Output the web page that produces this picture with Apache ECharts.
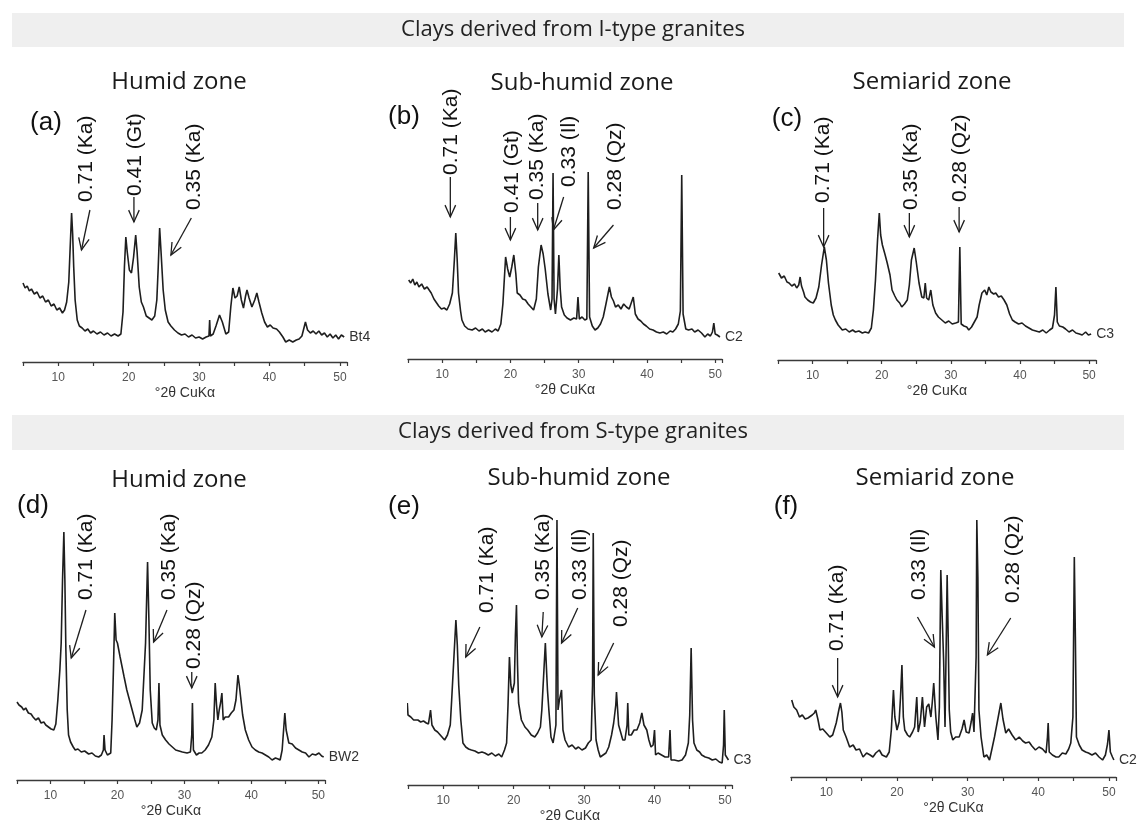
<!DOCTYPE html>
<html>
<head>
<meta charset="utf-8">
<script src="https://cdn.jsdelivr.net/npm/echarts@6/dist/echarts.min.js"></script>
<style>
html, body { margin: 0; padding: 0; background: #fff; }
#chart { width: 1146px; height: 829px; }
</style>
</head>
<body>
<div id="chart"></div>
<script>
// diffractograms, [2theta, counts] (counts in arbitrary units)
var scanA = [[5.0,79],[5.3,74],[5.6,76],[5.9,71],[6.2,73],[6.6,68],[7.0,70],[7.4,64],[7.8,66],[8.2,60],
  [8.6,62],[9.0,56],[9.4,58],[9.8,52],[10.2,54],[10.6,49],[10.9,52],[11.2,60],[11.5,80],[11.7,115],
  [11.9,149],[12.05,128],[12.2,95],[12.4,62],[12.7,42],[13.0,36],[13.4,34],[13.8,31],[14.2,33],[14.6,29],
  [15.0,31],[15.5,28],[16.0,30],[16.5,27],[17.0,29],[17.5,26],[18.0,28],[18.5,26],[18.9,28],[19.2,50],
  [19.4,95],[19.6,125],[19.8,110],[20.1,92],[20.4,89],[20.7,105],[21.0,127],[21.2,110],[21.5,75],[21.8,60],
  [22.1,55],[22.5,46],[22.9,44],[23.3,42],[23.7,46],[24.0,62],[24.2,95],[24.4,134],[24.6,110],[24.9,72],
  [25.2,52],[25.6,40],[26.0,36],[26.5,32],[27.0,29],[27.5,27],[28.0,28],[28.5,25],[29.0,27],[29.5,24],
  [30.0,25],[30.5,23],[31.0,25],[31.4,26],[31.5,42],[31.6,26],[32.0,28],[32.4,36],[32.9,47],[33.3,40],
  [33.8,28],[34.2,30],[34.5,55],[34.8,74],[35.1,64],[35.4,66],[35.7,75],[36.0,62],[36.3,54],[36.6,66],
  [36.8,72],[37.1,64],[37.5,55],[37.9,62],[38.2,69],[38.5,60],[38.9,49],[39.3,40],[39.7,35],[40.1,37],
  [40.5,34],[41.0,33],[41.4,30],[41.9,25],[42.3,20],[42.8,22],[43.3,20],[43.8,22],[44.2,23],[44.6,26],
  [45.1,40],[45.4,32],[45.8,29],[46.2,31],[46.6,28],[47.0,31],[47.4,27],[47.8,29],[48.2,25],[48.6,28],
  [49.0,24],[49.4,27],[49.8,23],[50.2,27],[50.6,25]];

var scanB = [[5.1,79],[5.4,76],[5.7,80],[6.0,74],[6.3,77],[6.6,72],[7.0,75],[7.4,70],[7.8,72],[8.1,69],
  [8.4,66],[8.8,60],[9.2,56],[9.5,53],[9.9,50],[10.3,51],[10.7,49],[11.1,55],[11.5,66],[11.8,100],
  [12.0,126],[12.2,100],[12.4,66],[12.7,48],[12.9,39],[13.3,33],[13.8,30],[14.4,29],[14.9,31],[15.4,28],
  [15.9,30],[16.3,27],[16.8,29],[17.3,27],[17.8,30],[18.2,28],[18.6,35],[18.9,55],[19.3,102],[19.6,90],
  [19.9,82],[20.2,92],[20.5,104],[20.8,85],[21.0,66],[21.4,64],[21.8,60],[22.2,59],[22.6,55],[23.0,52],
  [23.4,49],[23.8,60],[24.1,92],[24.5,114],[24.8,105],[25.1,90],[25.5,65],[25.9,49],[26.1,60],[26.25,186],
  [26.4,60],[26.6,45],[26.9,70],[27.1,104],[27.3,70],[27.5,52],[27.9,44],[28.3,41],[28.8,39],[29.3,41],
  [29.7,40],[29.9,62],[30.1,40],[30.5,42],[30.9,39],[31.2,40],[31.4,187],[31.6,42],[32.0,33],[32.4,29],
  [32.8,31],[33.2,35],[33.6,42],[34.0,55],[34.5,72],[34.8,62],[35.1,58],[35.4,52],[35.8,54],[36.2,50],
  [36.6,55],[37.0,52],[37.4,50],[37.7,56],[38.0,62],[38.3,45],[38.7,40],[39.1,38],[39.5,35],[39.9,33],
  [40.4,30],[40.9,29],[41.4,27],[41.9,26],[42.4,27],[42.9,25],[43.4,28],[43.8,27],[44.2,30],[44.6,35],
  [44.9,48],[45.1,184],[45.3,45],[45.7,30],[46.1,29],[46.6,30],[47.0,27],[47.5,29],[48.0,26],[48.5,22],
  [48.9,25],[49.3,23],[49.6,27],[49.8,36],[50.0,25],[50.3,24],[50.7,22]];

var scanC = [[5.1,87],[5.5,82],[5.9,84],[6.3,78],[6.6,77],[7.0,74],[7.4,76],[7.7,72],[8.0,75],[8.2,83],
  [8.4,74],[8.7,68],[8.9,63],[9.3,60],[9.7,58],[10.1,57],[10.5,62],[10.9,73],[11.3,95],[11.7,113],
  [12.0,100],[12.3,77],[12.7,55],[13.0,45],[13.3,40],[13.7,35],[14.3,30],[14.8,31],[15.3,28],[15.8,30],
  [16.2,28],[16.7,29],[17.2,27],[17.6,28],[18.1,27],[18.5,32],[18.8,50],[19.1,80],[19.4,120],[19.65,147],
  [19.85,125],[20.1,115],[20.5,105],[20.8,97],[21.2,85],[21.5,70],[21.9,64],[22.2,60],[22.6,57],[22.9,53],
  [23.3,56],[23.7,60],[24.0,75],[24.3,100],[24.7,112],[25.0,98],[25.4,77],[25.8,63],[26.1,62],[26.3,77],
  [26.5,62],[26.8,60],[27.1,70],[27.4,55],[27.8,47],[28.2,43],[28.7,40],[29.2,37],[29.7,39],[30.2,36],
  [30.7,37],[31.1,38],[31.3,113],[31.5,36],[31.9,34],[32.3,33],[32.6,30],[33.0,33],[33.4,38],[33.8,43],
  [34.1,55],[34.5,67],[34.9,70],[35.2,65],[35.5,73],[35.8,68],[36.2,66],[36.5,67],[36.9,63],[37.3,64],
  [37.7,60],[38.1,55],[38.5,46],[38.9,40],[39.3,38],[39.8,36],[40.3,37],[40.8,34],[41.3,32],[41.8,30],
  [42.3,29],[42.8,28],[43.3,30],[43.8,27],[44.3,30],[44.7,32],[45.0,45],[45.2,73],[45.4,38],[45.7,34],
  [46.2,33],[46.6,31],[47.1,28],[47.6,30],[48.1,27],[48.6,26],[49.0,25],[49.5,28],[49.9,25],[50.3,26]];

var scanD = [[5.0,78],[5.3,75],[5.7,73],[6.0,70],[6.3,72],[6.7,67],[7.1,66],[7.4,63],[7.8,60],[8.2,62],
  [8.6,57],[9.0,58],[9.3,55],[9.7,53],[10.1,51],[10.5,50],[10.8,56],[11.1,80],[11.4,110],[11.6,137],
  [11.8,200],[12.0,248],[12.15,200],[12.3,130],[12.5,70],[12.7,45],[13.0,38],[13.4,33],[13.7,30],[14.1,31],
  [14.6,28],[15.1,29],[15.7,26],[16.2,27],[16.7,24],[17.2,23],[17.6,25],[17.9,30],[18.0,45],[18.15,30],
  [18.5,25],[19.0,27],[19.2,60],[19.4,110],[19.6,167],[19.8,140],[20.0,137],[20.4,123],[20.7,113],[21.0,103],
  [21.4,90],[21.8,80],[22.2,70],[22.6,60],[22.9,53],[23.3,57],[23.7,70],[24.0,110],[24.2,137],[24.5,218],
  [24.7,160],[24.9,90],[25.2,57],[25.5,52],[25.8,50],[26.05,60],[26.2,97],[26.35,55],[26.7,45],[27.2,40],
  [27.7,36],[28.2,33],[28.7,30],[29.2,29],[29.7,28],[30.4,27],[30.9,28],[31.1,45],[31.2,77],[31.35,30],
  [31.8,25],[32.2,27],[32.6,27],[33.1,30],[33.6,35],[34.1,43],[34.4,60],[34.6,97],[34.8,75],[35.0,60],
  [35.2,70],[35.4,77],[35.6,87],[35.8,60],[36.1,63],[36.6,63],[37.0,67],[37.4,70],[37.7,80],[38.0,105],
  [38.2,95],[38.4,83],[38.7,65],[39.1,50],[39.6,40],[40.1,33],[40.6,30],[41.1,28],[41.6,27],[42.1,25],
  [42.6,23],[43.1,20],[43.6,22],[44.0,21],[44.3,20],[44.6,30],[45.0,67],[45.2,50],[45.6,37],[46.1,36],
  [46.6,32],[47.1,30],[47.6,28],[48.1,27],[48.6,23],[49.1,26],[49.6,25],[50.1,27],[50.5,24],[50.8,23]];

var scanE = [[4.9,82],[5.0,70],[5.4,68],[5.8,65],[6.4,65],[6.8,63],[7.2,64],[7.6,62],[7.9,61],[8.2,75],
  [8.4,60],[8.8,55],[9.2,53],[9.7,49],[10.2,45],[10.6,50],[11.0,60],[11.2,85],[11.5,125],[11.8,165],
  [12.0,140],[12.2,100],[12.5,65],[12.8,42],[13.2,38],[13.6,36],[14.0,35],[14.5,34],[15.0,32],[15.5,33],
  [15.9,32],[16.4,30],[16.9,32],[17.4,29],[17.9,31],[18.3,28],[18.7,35],[19.0,42],[19.2,80],[19.4,128],
  [19.6,100],[19.8,92],[20.1,102],[20.25,150],[20.4,180],[20.55,120],[20.7,82],[21.1,65],[21.6,58],[22.0,55],
  [22.5,50],[23.0,48],[23.4,52],[23.8,58],[24.0,75],[24.3,115],[24.5,142],[24.7,110],[24.8,95],[25.0,75],
  [25.3,48],[25.6,42],[25.8,40],[26.0,60],[26.15,265],[26.3,75],[26.5,85],[26.8,95],[27.0,55],[27.3,45],
  [27.8,38],[28.3,40],[28.8,36],[29.2,38],[29.7,35],[30.2,37],[30.6,42],[31.0,45],[31.2,100],[31.3,252],
  [31.45,90],[31.7,45],[32.0,35],[32.3,28],[32.7,30],[33.1,32],[33.5,38],[33.9,50],[34.2,62],[34.5,80],
  [34.6,93],[34.9,60],[35.1,55],[35.5,45],[35.8,45],[36.1,60],[36.2,82],[36.35,50],[36.7,50],[37.1,55],
  [37.5,55],[37.9,62],[38.2,72],[38.5,60],[38.9,55],[39.2,45],[39.5,38],[39.8,40],[40.0,55],[40.15,30],
  [40.5,32],[41.0,30],[41.5,28],[42.0,28],[42.2,55],[42.35,25],[42.8,25],[43.4,24],[43.9,25],[44.4,30],
  [44.8,42],[45.0,70],[45.2,137],[45.4,65],[45.6,42],[46.0,35],[46.4,33],[46.7,30],[47.2,28],[47.7,27],
  [48.2,25],[48.7,26],[49.2,23],[49.6,22],[49.8,40],[49.9,75],[50.05,30],[50.3,28],[50.5,25]];

var scanF = [[5.1,77],[5.4,70],[5.8,67],[6.2,60],[6.6,62],[7.0,58],[7.4,59],[7.6,57],[8.0,62],[8.3,64],
  [8.5,67],[8.8,58],[9.1,47],[9.5,48],[10.0,44],[10.5,40],[10.9,42],[11.4,54],[11.8,68],[12.0,74],
  [12.2,65],[12.4,47],[12.8,40],[13.3,30],[13.8,32],[14.2,27],[14.7,28],[15.2,20],[15.7,24],[16.2,22],
  [16.6,20],[17.0,24],[17.5,27],[17.9,22],[18.5,20],[18.9,25],[19.2,47],[19.5,87],[19.7,60],[20.0,47],
  [20.3,55],[20.5,80],[20.7,112],[20.9,60],[21.1,47],[21.5,42],[21.8,40],[22.2,45],[22.5,50],[22.8,80],
  [23.0,45],[23.3,55],[23.6,80],[23.9,50],[24.2,70],[24.5,73],[24.8,60],[25.0,75],[25.2,94],[25.5,60],
  [25.8,37],[26.0,70],[26.2,207],[26.4,160],[26.6,117],[26.8,50],[27.0,150],[27.1,202],[27.25,140],[27.4,67],
  [27.6,45],[27.9,37],[28.3,40],[28.8,40],[29.2,48],[29.5,57],[29.8,45],[30.2,44],[30.5,55],[30.7,64],
  [30.9,45],[31.1,47],[31.2,120],[31.3,257],[31.45,200],[31.6,67],[31.9,40],[32.3,20],[32.7,22],[33.1,17],
  [33.5,30],[33.8,40],[34.2,55],[34.7,74],[35.0,58],[35.4,44],[35.8,48],[36.3,42],[36.8,37],[37.3,40],
  [37.8,36],[38.2,34],[38.7,35],[39.1,31],[39.6,27],[40.1,30],[40.6,28],[41.1,24],[41.3,40],[41.4,54],
  [41.55,25],[42.0,22],[42.5,20],[42.9,20],[43.4,24],[43.9,23],[44.3,28],[44.6,34],[44.9,60],[45.1,220],
  [45.25,140],[45.4,40],[45.8,32],[46.2,27],[46.7,25],[47.1,24],[47.6,22],[48.1,24],[48.6,20],[49.1,17],
  [49.5,22],[49.8,33],[50.0,47],[50.2,25],[50.5,20],[50.7,17]];

// peak labels: d-spacing (nm) and mineral
var peaksA = ['0.71 (Ka)', '0.41 (Gt)', '0.35 (Ka)'];
var peaksB = ['0.71 (Ka)', '0.41 (Gt)', '0.35 (Ka)', '0.33 (Il)', '0.28 (Qz)'];
var peaksC = ['0.71 (Ka)', '0.35 (Ka)', '0.28 (Qz)'];
var peaksD = ['0.71 (Ka)', '0.35 (Ka)', '0.28 (Qz)'];
var peaksE = ['0.71 (Ka)', '0.35 (Ka)', '0.33 (Il)', '0.28 (Qz)'];
var peaksF = ['0.71 (Ka)', '0.33 (Il)', '0.28 (Qz)'];

// arrow tip, arrow tail and label foot for each peak, in [2theta, counts]
var tipA = [[13.3,112],[20.75,140],[26.0,107]];
var tailA = [[14.5,152],[20.75,165],[28.9,144]];
var textA = [[14.0,160],[20.9,166],[29.3,152]];
var tipB = [[11.2,142],[20.0,119],[24.0,129],[26.3,129],[32.2,111]];
var tailB = [[11.2,182],[20.0,142],[24.0,156],[27.8,162],[35.1,134]];
var textB = [[11.4,184],[20.2,146],[24.0,159],[28.6,172],[35.3,149]];
var tipC = [[11.6,113],[24.0,123],[31.2,128]];
var tailC = [[11.6,152],[24.0,147],[31.2,153]];
var textC = [[11.6,157],[24.2,150],[31.3,158]];
var tipD = [[13.1,122],[25.4,138],[31.1,92]];
var tailD = [[15.3,170],[27.4,170],[31.1,108]];
var textD = [[15.3,180],[27.8,180],[31.4,111]];
var tipE = [[13.2,128],[24.0,148],[26.8,142],[32.0,110]];
var tailE = [[15.2,158],[24.2,173],[29.1,177],[34.2,142]];
var textE = [[16.3,172],[24.2,185],[29.4,185],[35.2,158]];
var tipF = [[11.6,80],[25.3,130],[32.8,122]];
var tailF = [[11.6,119],[22.9,160],[36.1,159]];
var textF = [[11.5,126],[23.2,177],[36.4,174]];

var panels = [
  { scan: scanA, sample: 'Bt4', peaks: peaksA, tip: tipA, tail: tailA, text: textA,
    left: 23, width: 324, base: 362, title: 'Humid zone', titleX: 179, titleY: 82, tag: '(a)', tagX: 46, tagY: 123 },
  { scan: scanB, sample: 'C2', peaks: peaksB, tip: tipB, tail: tailB, text: textB,
    left: 408, width: 314, base: 359, title: 'Sub-humid zone', titleX: 582, titleY: 83, tag: '(b)', tagX: 404, tagY: 117 },
  { scan: scanC, sample: 'C3', peaks: peaksC, tip: tipC, tail: tailC, text: textC,
    left: 778, width: 318, base: 360, title: 'Semiarid zone', titleX: 932, titleY: 82, tag: '(c)', tagX: 787, tagY: 119 },
  { scan: scanD, sample: 'BW2', peaks: peaksD, tip: tipD, tail: tailD, text: textD,
    left: 17, width: 308, base: 780, title: 'Humid zone', titleX: 179, titleY: 480, tag: '(d)', tagX: 33, tagY: 506 },
  { scan: scanE, sample: 'C3', peaks: peaksE, tip: tipE, tail: tailE, text: textE,
    left: 408, width: 324, base: 785, title: 'Sub-humid zone', titleX: 579, titleY: 478, tag: '(e)', tagX: 404, tagY: 507 },
  { scan: scanF, sample: 'C2', peaks: peaksF, tip: tipF, tail: tailF, text: textF,
    left: 791, width: 325, base: 777, title: 'Semiarid zone', titleX: 935, titleY: 478, tag: '(f)', tagX: 786, tagY: 507 }
];

var SPAN = 300;
var INK = '#1e1e1e';

function arrowRenderer(labels) {
  return function (params, api) {
    var tip = api.coord([api.value(0), api.value(1)]);
    var tail = api.coord([api.value(2), api.value(3)]);
    var foot = api.coord([api.value(4), api.value(5)]);
    var ang = Math.atan2(tip[1] - tail[1], tip[0] - tail[0]);
    var len = 13, spread = 0.42;
    var h1 = [tip[0] - len * Math.cos(ang - spread), tip[1] - len * Math.sin(ang - spread)];
    var h2 = [tip[0] - len * Math.cos(ang + spread), tip[1] - len * Math.sin(ang + spread)];
    return {
      type: 'group',
      children: [
        { type: 'line', shape: { x1: tail[0], y1: tail[1], x2: tip[0], y2: tip[1] },
          style: { stroke: INK, lineWidth: 1.3 } },
        { type: 'polyline', shape: { points: [h1, tip, h2] },
          style: { stroke: INK, lineWidth: 1.3, fill: null } },
        { type: 'text', x: foot[0], y: foot[1], rotation: Math.PI / 2,
          style: { text: labels[params.dataIndex], font: '21px "Liberation Sans", Arial, sans-serif',
            fill: '#111', textAlign: 'left', textVerticalAlign: 'middle', align: 'left', verticalAlign: 'middle' } }
      ]
    };
  };
}

var grids = [], xAxes = [], yAxes = [], series = [];
var graphics = [
  { type: 'rect', shape: { x: 12, y: 13, width: 1112, height: 34 }, style: { fill: '#efefef' } },
  { type: 'rect', shape: { x: 12, y: 415, width: 1112, height: 35 }, style: { fill: '#efefef' } },
  { type: 'text', x: 573, y: 30, style: { text: 'Clays derived from I-type granites',
    font: '22px "Open Sans", sans-serif', fill: '#222', textAlign: 'center', textVerticalAlign: 'middle' } },
  { type: 'text', x: 573, y: 432, style: { text: 'Clays derived from S-type granites',
    font: '22px "Open Sans", sans-serif', fill: '#222', textAlign: 'center', textVerticalAlign: 'middle' } }
];

panels.forEach(function (p, i) {
  grids.push({ left: p.left, top: p.base - SPAN, width: p.width, height: SPAN });
  xAxes.push({
    type: 'value', gridIndex: i, min: 5, max: 51, interval: 5,
    axisLine: { lineStyle: { color: '#3a3a3a', width: 1.3 } },
    axisTick: { length: 4, lineStyle: { color: '#3a3a3a', width: 1.2 } },
    splitLine: { show: false },
    axisLabel: {
      formatter: function (v) { return v % 10 === 0 ? String(v) : ''; },
      fontSize: 12, color: '#555', margin: 10, fontFamily: '"Liberation Sans", Arial, sans-serif'
    },
    name: '°2θ CuKα', nameLocation: 'middle', nameGap: 24,
    nameTextStyle: { fontSize: 14, color: '#333', fontFamily: '"Liberation Sans", Arial, sans-serif' }
  });
  yAxes.push({ type: 'value', gridIndex: i, min: 0, max: SPAN, show: false });

  series.push({
    type: 'line', xAxisIndex: i, yAxisIndex: i, data: p.scan,
    showSymbol: false, symbol: 'none', clip: false, silent: true,
    lineStyle: { color: INK, width: 1.6 },
    endLabel: { show: true, formatter: p.sample, color: '#333', fontSize: 14, distance: 5,
      fontFamily: '"Liberation Sans", Arial, sans-serif' }
  });

  var ann = p.peaks.map(function (lbl, k) {
    return [p.tip[k][0], p.tip[k][1], p.tail[k][0], p.tail[k][1], p.text[k][0], p.text[k][1]];
  });
  series.push({
    type: 'custom', xAxisIndex: i, yAxisIndex: i, data: ann, clip: false, silent: true,
    encode: { x: [0, 2, 4], y: [1, 3, 5] },
    renderItem: arrowRenderer(p.peaks)
  });

  graphics.push({ type: 'text', x: p.titleX, y: p.titleY, style: { text: p.title,
    font: '24px "Open Sans", sans-serif', fill: '#1a1a1a', textAlign: 'center', textVerticalAlign: 'middle' } });
  graphics.push({ type: 'text', x: p.tagX, y: p.tagY, style: { text: p.tag,
    font: '26px "Liberation Sans", Arial, sans-serif', fill: '#111', textAlign: 'center', textVerticalAlign: 'middle' } });
});

var myChart = echarts.init(document.getElementById('chart'));
myChart.setOption({
  animation: false,
  backgroundColor: '#fff',
  grid: grids,
  xAxis: xAxes,
  yAxis: yAxes,
  series: series,
  graphic: graphics
});
</script>
</body>
</html>
